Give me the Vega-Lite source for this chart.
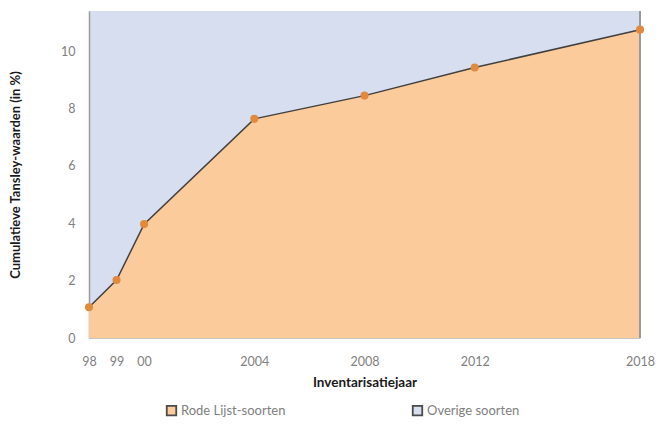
{
  "$schema": "https://vega.github.io/schema/vega-lite/v6.json",
  "width": 551,
  "height": 327,
  "autosize": {"type": "none"},
  "padding": {"left": 89, "top": 11, "right": 16, "bottom": 92},
  "background": "#ffffff",
  "config": {
    "font": "Lato",
    "view": {"fill": "#D6DEF0", "stroke": null}
  },
  "data": {
    "values": [
      {"jaar": 1998, "waarde": 1.07, "soort": "Rode Lijst-soorten"},
      {"jaar": 1999, "waarde": 2.02, "soort": "Rode Lijst-soorten"},
      {"jaar": 2000, "waarde": 3.97, "soort": "Rode Lijst-soorten"},
      {"jaar": 2004, "waarde": 7.64, "soort": "Rode Lijst-soorten"},
      {"jaar": 2008, "waarde": 8.45, "soort": "Rode Lijst-soorten"},
      {"jaar": 2012, "waarde": 9.43, "soort": "Rode Lijst-soorten"},
      {"jaar": 2018, "waarde": 10.75, "soort": "Rode Lijst-soorten"}
    ]
  },
  "encoding": {
    "x": {
      "field": "jaar",
      "type": "quantitative",
      "scale": {"domain": [1998, 2018], "nice": false, "zero": false},
      "axis": {
        "title": "Inventarisatiejaar",
        "titleFont": "Lato",
        "titleFontSize": 13.5,
        "titleFontWeight": "bold",
        "titleColor": "#1a1a1a",
        "titlePadding": 8,
        "values": [1998, 1999, 2000, 2004, 2008, 2012, 2018],
        "labelExpr": "datum.value < 2001 ? (datum.value == 2000 ? '00' : format(datum.value - 1900, 'd')) : format(datum.value, 'd')",
        "labelFontSize": 12.5,
        "labelColor": "#808080",
        "labelPadding": 17,
        "labelFlush": false,
        "labelOverlap": false,
        "ticks": false,
        "grid": false,
        "domainColor": "#c8c8c8"
      }
    },
    "y": {
      "field": "waarde",
      "type": "quantitative",
      "scale": {"domain": [0, 11.4], "nice": false},
      "axis": {
        "title": "Cumulatieve Tansley-waarden (in %)",
        "titleFont": "Lato",
        "titleFontSize": 13,
        "titleFontWeight": "bold",
        "titleColor": "#1a1a1a",
        "titlePadding": 38,
        "values": [0, 2, 4, 6, 8, 10],
        "labelFontSize": 12.5,
        "labelColor": "#808080",
        "labelPadding": 14,
        "ticks": false,
        "grid": false,
        "domainColor": "#9a9a9a",
        "domainWidth": 1.5
      }
    }
  },
  "layer": [
    {
      "mark": {"type": "area", "opacity": 1},
      "encoding": {
        "color": {
          "field": "soort",
          "type": "nominal",
          "scale": {
            "domain": ["Rode Lijst-soorten", "Overige soorten"],
            "range": ["#FCCB9B", "#D6DEF0"]
          },
          "legend": {
            "title": null,
            "orient": "none",
            "direction": "horizontal",
            "legendX": 76,
            "legendY": 393,
            "symbolType": "square",
            "symbolSize": 90,
            "symbolOpacity": 1,
            "labelFontSize": 13,
            "labelColor": "#808080",
            "labelOffset": 3,
            "columnPadding": 123,
            "encode": {
              "symbols": {
                "update": {
                  "stroke": {"value": "#4a4a4a"},
                  "strokeWidth": {"value": 1.8}
                }
              }
            }
          }
        }
      }
    },
    {
      "mark": {"type": "rule", "color": "#9a9a9a", "strokeWidth": 1.5},
      "encoding": {"x": {"datum": 2018, "type": "quantitative"}, "y": null}
    },
    {
      "mark": {"type": "line", "color": "#404040", "strokeWidth": 1.5}
    },
    {
      "mark": {"type": "point", "filled": true, "color": "#E08A3E", "size": 65, "opacity": 1}
    }
  ]
}
